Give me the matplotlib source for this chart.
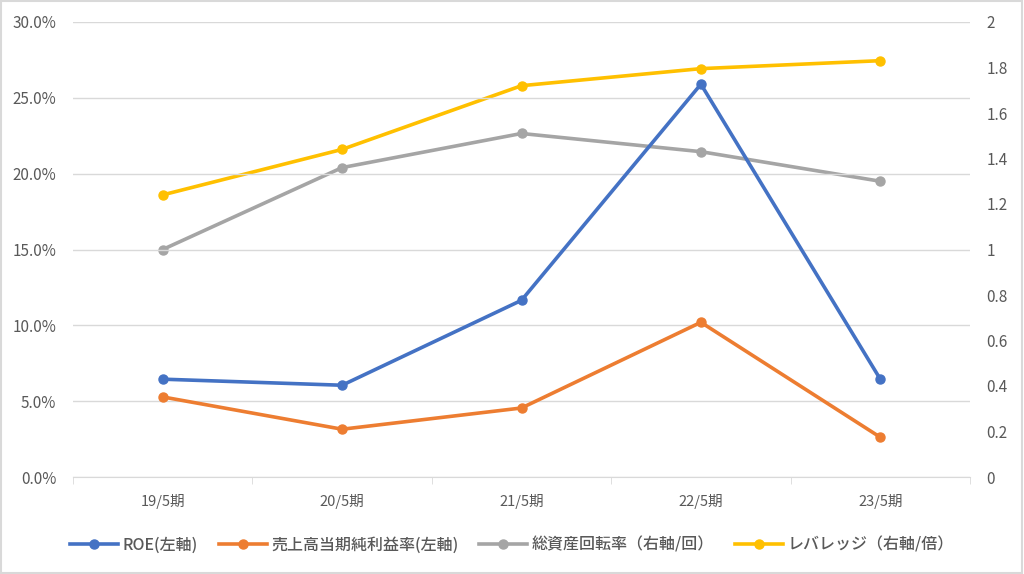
import numpy as np
import matplotlib.pyplot as plt
from matplotlib.ticker import FuncFormatter, FixedLocator

plt.rcParams['font.family'] = ['Noto Sans CJK JP', 'DejaVu Sans']

periods = ["19/5期", "20/5期", "21/5期", "22/5期", "23/5期"]
roe = [6.45, 6.05, 11.65, 25.9, 6.45]          # % (left)
net_margin = [5.28, 3.15, 4.55, 10.2, 2.62]    # % (left)
asset_turnover = [1.0, 1.36, 1.51, 1.43, 1.30]  # right
leverage = [1.24, 1.44, 1.72, 1.795, 1.83]     # right

names = ["ROE(左軸)", "売上高当期純利益率(左軸)", "総資産回転率（右軸/回）", "レバレッジ（右軸/倍）"]
colors = ["#4472C4", "#ED7D31", "#A5A5A5", "#FFC000"]
txt = "#595959"
grid = "#D9D9D9"

fig = plt.figure(figsize=(10.24, 5.74), dpi=100)
ax = fig.add_axes([73/1024, 1-477/574, 897/1024, 455/574])
ax2 = ax.twinx()

x = np.arange(len(periods))
lw, ms = 2.6, 6.5
h = []
h += ax.plot(x, roe, color=colors[0], lw=lw, marker='o', ms=ms, label=names[0])
h += ax.plot(x, net_margin, color=colors[1], lw=lw, marker='o', ms=ms, label=names[1])
h += ax2.plot(x, asset_turnover, color=colors[2], lw=lw, marker='o', ms=ms, label=names[2])
h += ax2.plot(x, leverage, color=colors[3], lw=lw, marker='o', ms=ms, label=names[3])
ax.set_zorder(ax2.get_zorder() + 1)
ax.patch.set_visible(False)

ax.set_xlim(-0.5, len(periods) - 0.5)
ax.set_ylim(0, 30)
ax2.set_ylim(0, 2)
ax.set_yticks(np.arange(0, 31, 5))
ax.yaxis.set_major_formatter(FuncFormatter(lambda v, p: f"{v:.1f}%"))
ax2.set_yticks(np.arange(0, 2.01, 0.2))
ax2.yaxis.set_major_formatter(FuncFormatter(lambda v, p: f"{v:.1f}".rstrip('0').rstrip('.') if v else "0"))

ax.set_xticks(x)
ax.set_xticklabels(periods)
ax.xaxis.set_minor_locator(FixedLocator(np.arange(-0.5, len(periods), 1.0)))
ax.tick_params(axis='x', which='major', length=0, pad=12, colors=txt, labelsize=10.5)
ax.tick_params(axis='x', which='minor', length=5, color=grid)
ax.tick_params(axis='y', length=0, pad=12, colors=txt, labelsize=11)
ax2.tick_params(axis='y', length=0, pad=12, colors=txt, labelsize=11)

ax.grid(axis='y', color=grid, lw=1)
ax.set_axisbelow(True)
for a in (ax, ax2):
    for s in a.spines.values():
        s.set_visible(False)
ax.spines['bottom'].set_visible(True)
ax.spines['bottom'].set_color(grid)

fig.legend(handles=h, loc='center', bbox_to_anchor=(0.5, 1-545/574), ncol=4,
           frameon=False, fontsize=11.5, labelcolor=txt, handlelength=3.0,
           columnspacing=1.3, handletextpad=0.3,
           prop={'size': 11.5, 'weight': 'medium'})

fig.patches.append(plt.Rectangle((0.001, 0.001), 0.997, 0.997, transform=fig.transFigure,
                                 fill=False, edgecolor="#D9D9D9", lw=1.5))

fig.savefig("out.png", dpi=100)
